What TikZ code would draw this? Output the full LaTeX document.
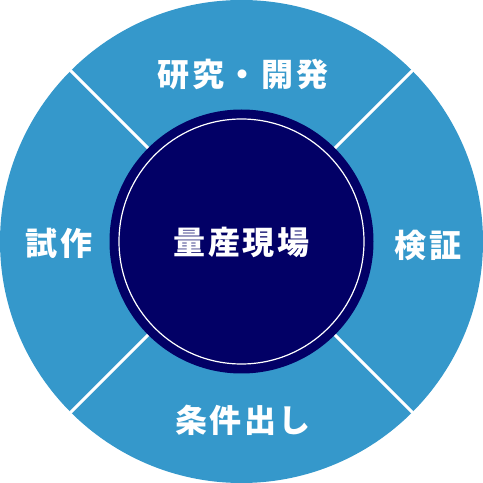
\documentclass[tikz,border=0pt]{standalone}
\usepackage{fontspec}
\usetikzlibrary{calc}
\newfontfamily\jp{Noto Sans CJK JP}[BoldFont={Noto Sans CJK JP Black},LetterSpace=8]
\definecolor{ringblue}{HTML}{3598CB}
\definecolor{navy}{HTML}{020066}
\begin{document}
\begin{tikzpicture}[x=1pt,y=1pt,
  lbl/.style={text=white,font=\jp\bfseries\fontsize{32}{32}\selectfont,inner sep=0pt},
  divider/.style={white,line width=3pt}]
\useasboundingbox (0,0) rectangle (483,483);
\coordinate (c) at (241.5,241.5);
\fill[ringblue] (c) circle (241.5);
\foreach \a in {45,135,225,315}
  \draw[divider] ($(c)+(\a:130)$) -- ($(c)+(\a:243)$);
\fill[navy] (c) circle (132);
\draw[white,line width=1.2pt] (c) circle (122.5);
\node[lbl] (center) at (241.5,241) {量産現場};
\node[lbl] (top) at (243,409) {研究・開発};
\node[lbl] (left) at (59,240) {試作};
\node[lbl] (right) at (428,238) {検証};
\node[lbl] (bottom) at (243,63) {条件出し};
\end{tikzpicture}
\end{document}
